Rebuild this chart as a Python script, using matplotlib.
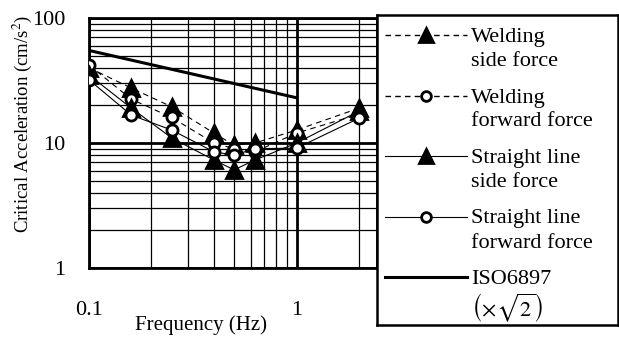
import numpy as np
import matplotlib
matplotlib.use('Agg')
import matplotlib.pyplot as plt
from matplotlib.ticker import FixedLocator, NullFormatter, FixedFormatter

plt.rcParams['font.family'] = ['Liberation Serif', 'DejaVu Serif']
plt.rcParams['mathtext.fontset'] = 'stix'

# Datos
freq = [0.1, 0.16, 0.25, 0.4, 0.5, 0.63, 1.0, 2.0]
weld_side = [40, 27.5, 19.5, 12, 9.6, 10, 12.7, 19]
weld_fwd = [42, 22.4, 16, 10, 9, 8.5, 12, 17]
line_side = [35, 19, 11, 7.3, 6.1, 7.3, 10, 18]
line_fwd = [32, 16.7, 12.7, 8.5, 8, 9, 9.1, 15.8]
iso_freq = [0.1, 1.0]
iso_acc = [55, 23]

W, H = 619, 340
fig = plt.figure(figsize=(W/100, H/100), dpi=100)
ax = fig.add_axes([89/W, 1-268/H, (377-89)/W, (268-18)/H])

ax.set_xscale('log')
ax.set_yscale('log')
ax.set_xlim(0.1, 2.44)
ax.set_ylim(1, 100)

# estilos de cada serie
series = [
    (weld_side, '--', '^', 'black'),
    (weld_fwd, '--', 'o', 'white'),
    (line_side, '-', '^', 'black'),
    (line_fwd, '-', 'o', 'white'),
]
for vals, ls, mk, fc in series:
    ax.plot(freq, vals, linestyle=ls, color='black', linewidth=0.8,
            marker=mk, markersize=11 if mk == '^' else 8,
            markerfacecolor=fc, markeredgecolor='black', markeredgewidth=2.0,
            dashes=(5, 4) if ls == '--' else (None, None), zorder=3)
ax.plot(iso_freq, iso_acc, color='black', linewidth=2.2, zorder=3)

# rejilla
ax.xaxis.set_major_locator(FixedLocator([0.1, 1]))
ax.yaxis.set_major_locator(FixedLocator([1, 10, 100]))
ax.xaxis.set_minor_locator(FixedLocator([0.2, 0.3, 0.4, 0.5, 0.6, 0.7, 0.8, 0.9, 2]))
ax.yaxis.set_minor_locator(FixedLocator([k*m for m in (1, 10) for k in range(2, 10)]))
ax.xaxis.set_major_formatter(FixedFormatter(['0.1', '1']))
ax.yaxis.set_major_formatter(FixedFormatter(['1', '10', '100']))
ax.xaxis.set_minor_formatter(NullFormatter())
ax.yaxis.set_minor_formatter(NullFormatter())
ax.grid(which='major', color='black', linewidth=2.0)
ax.grid(which='minor', color='black', linewidth=0.9)
ax.tick_params(which='both', length=0)
ax.tick_params(axis='x', pad=24, labelsize=16)
ax.tick_params(axis='y', pad=17, labelsize=16)
for s in ax.spines.values():
    s.set_linewidth(2.0)

ax.set_xlabel('Frequency (Hz)', fontsize=15)
ax.xaxis.set_label_coords((201-89)/(377-89), -(325-268)/(268-18))
ax.xaxis.label.set_va('center')
ax.set_ylabel('Critical Acceleration (cm/s$^2$)', fontsize=13.5)
ax.yaxis.set_label_coords(-(89-22)/(377-89), (268-124)/(268-18))
ax.yaxis.label.set_va('center')

# leyenda dibujada a mano
lax = fig.add_axes([377/W, 1-325/H, 241/W, 310/H])
lax.set_xlim(377, 618)
lax.set_ylim(325, 15)
lax.set_xticks([])
lax.set_yticks([])
for s in lax.spines.values():
    s.set_linewidth(1.8)

entradas = [
    ('--', '^', 'black', 1.0, 'Welding', 'side force'),
    ('--', 'o', 'white', 1.0, 'Welding', 'forward force'),
    ('-', '^', 'black', 0.8, 'Straight line', 'side force'),
    ('-', 'o', 'white', 0.8, 'Straight line', 'forward force'),
    ('-', None, 'black', 2.2, 'ISO6897', r'$\left(\times\sqrt{2}\right)$'),
]
y0 = 35
for i, (ls, mk, fc, lw, t1, t2) in enumerate(entradas):
    y = y0 + i*60.5
    lax.plot([385, 467], [y, y], linestyle=ls, color='black', linewidth=lw,
             dashes=(4, 3) if ls == '--' else (None, None))
    if mk is not None:
        lax.plot([426], [y], marker=mk, markersize=10 if mk == '^' else 7,
                 markerfacecolor=fc, markeredgecolor='black', markeredgewidth=2.0)
    lax.text(471, y, t1, fontsize=16, va='center_baseline', ha='left')
    lax.text(471, y + 24 if mk else y + 27, t2, fontsize=16, va='center_baseline', ha='left')

fig.savefig('out.png', dpi=100)
